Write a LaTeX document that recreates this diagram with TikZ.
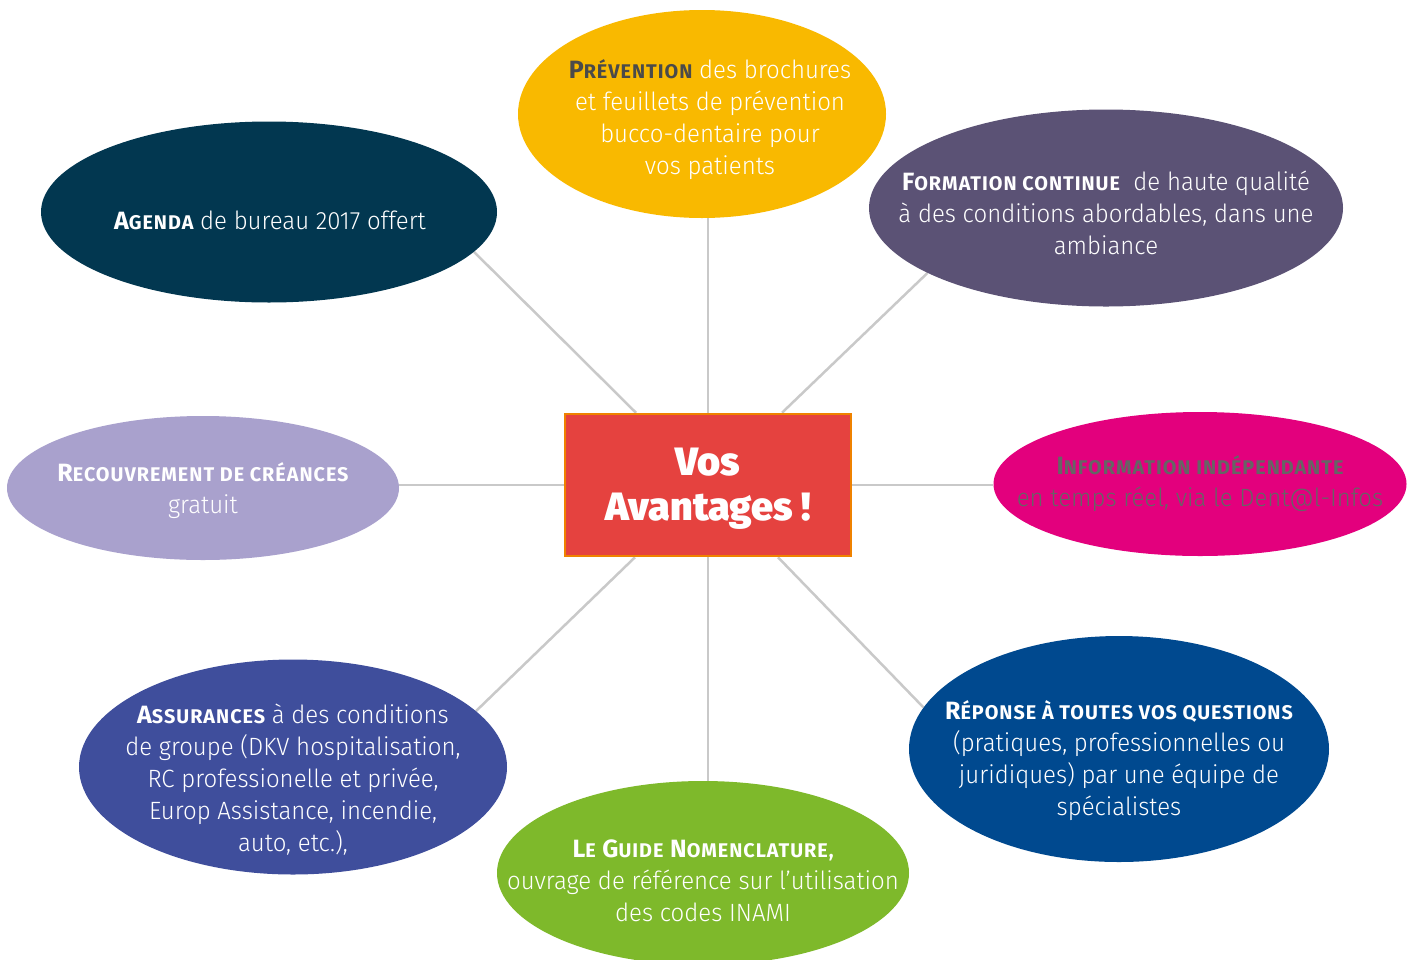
\documentclass[tikz,border=0pt]{standalone}
\usepackage{fontspec}
\setmainfont{Fira Sans Light}[FakeStretch=0.96]
\newfontfamily\boldfam{Fira Sans}[LetterSpace=5]
\newfontfamily\heavyfam{Fira Sans Black}
\usetikzlibrary{shapes.geometric,calc,backgrounds}
\definecolor{cYellow}{HTML}{F9B900}
\definecolor{cAgenda}{HTML}{023750}
\definecolor{cForm}{HTML}{5B5275}
\definecolor{cRecouv}{HTML}{A9A1CD}
\definecolor{cInfo}{HTML}{E3007D}
\definecolor{cAssur}{HTML}{3F4E9C}
\definecolor{cGuide}{HTML}{7EB92B}
\definecolor{cRep}{HTML}{00498F}
\definecolor{cCenter}{HTML}{E5423F}
\definecolor{cBorder}{HTML}{EF8200}
\definecolor{cLine}{HTML}{C9C9C9}
\definecolor{cDark}{HTML}{4A4A4A}
\newcommand\capsc[2]{{\boldfam\bfseries #1\fontsize{19.8}{32}\selectfont #2}}
\tikzset{
  oval/.style={ellipse, draw=none, inner sep=0pt},
  txt/.style={align=center, font=\fontsize{25}{32}\selectfont, text=white, inner sep=0pt},
  conn/.style={draw=cLine, line width=2.5pt},
}
\begin{document}
\begin{tikzpicture}[x=1pt,y=-1pt]
\useasboundingbox (0,0) rectangle (1410,959);
% ellipses
\node[oval, fill=cYellow, minimum width=368pt, minimum height=208pt] (prev) at (702,114) {};
\node[oval, fill=cAgenda, minimum width=456pt, minimum height=181pt] (agenda) at (269,212) {};
\node[oval, fill=cForm, minimum width=474pt, minimum height=197pt] (form) at (1106,208) {};
\node[oval, fill=cRecouv, minimum width=392pt, minimum height=144pt] (recouv) at (203,488) {};
\node[oval, fill=cInfo, minimum width=413pt, minimum height=144pt] (info) at (1200,484) {};
\node[oval, fill=cAssur, minimum width=428pt, minimum height=215pt] (assur) at (293,767) {};
\node[oval, fill=cGuide, minimum width=412pt, minimum height=184pt] (guide) at (703,873) {};
\node[oval, fill=cRep, minimum width=420pt, minimum height=226pt] (rep) at (1119,749) {};
% center
\node[rectangle, fill=cCenter, draw=cBorder, line width=2.5pt, minimum width=286pt, minimum height=142pt, inner sep=0pt] (c) at (708,485) {};
\node[align=center, text=white, inner sep=0pt, font=\heavyfam\fontsize{39.5}{45}\selectfont] (ctext) at (708,489) {Vos\\Avantages !};
% connectors
\begin{scope}[on background layer]
\fill[white] (0,0) rectangle (1410,959);
\draw[conn] ($(c.north)+(-72,0)$) -- (agenda.-11);
\draw[conn] (c.north) -- (c.north |- prev.south);
\draw[conn] ($(c.north)+(74,0)$) -- (form.200);
\draw[conn] (c.west) -- (c.west -| recouv.east);
\draw[conn] (c.east) -- (c.east -| info.west);
\draw[conn] ($(c.south)+(-73,0)$) -- (assur.17);
\draw[conn] (c.south) -- (c.south |- guide.north);
\draw[conn] ($(c.south)+(70,0)$) -- (rep.168);
\end{scope}
% texts
\node[txt, text=white] (tprev) at (710,120) {\textcolor{cDark}{\capsc{P}{RÉVENTION}} des brochures\\et feuillets de prévention\\bucco-dentaire pour\\vos patients};
\node[txt] (tagenda) at (270,220) {\capsc{A}{GENDA} de bureau 2017 offert};
\node[txt] (tform) at (1106,213) {\capsc{F}{ORMATION CONTINUE}\ \ de haute qualité\\à des conditions abordables, dans une\\ambiance};
\node[txt] (trecouv) at (203,491) {\capsc{R}{ECOUVREMENT DE CRÉANCES}\\gratuit};
\node[txt, text=cDark!85] (tinfo) at (1200,484) {\capsc{I}{NFORMATION INDÉPENDANTE}\\en temps réel, via le Dent@l-Infos};
\node[txt] (tassur) at (293,780) {\capsc{A}{SSURANCES} à des conditions\\de groupe (DKV hospitalisation,\\RC professionelle et privée,\\Europ Assistance, incendie,\\auto, etc.),};
\node[txt] (tguide) at (703,881) {\capsc{L}{E} \capsc{G}{UIDE} \capsc{N}{OMENCLATURE,}\\ouvrage de référence sur l’utilisation\\des codes INAMI};
\node[txt] (trep) at (1119,761) {\capsc{R}{ÉPONSE À TOUTES VOS QUESTIONS}\\(pratiques, professionnelles ou\\juridiques) par une équipe de\\spécialistes};
\end{tikzpicture}
\end{document}
